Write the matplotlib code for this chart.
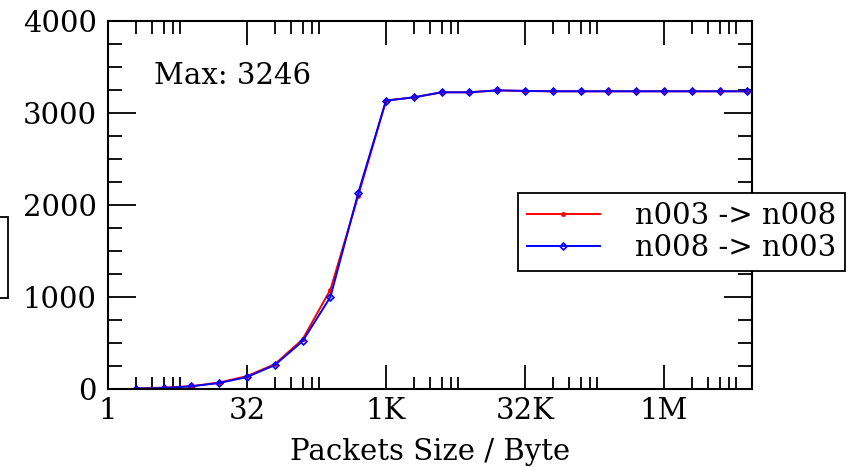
import matplotlib.pyplot as plt
import matplotlib.ticker as mticker
from matplotlib.patches import Rectangle
import numpy as np

# packet sizes (bytes) and measured bandwidth for both directions
sizes = [2, 4, 8, 16, 32, 64, 128, 256, 512, 1024, 2048, 4096, 8192,
         16384, 32768, 65536, 131072, 262144, 524288, 1048576, 2097152,
         4194304, 8388608]
bw_003_008 = [5, 15, 30, 70, 140, 270, 540, 1080, 2100, 3135, 3170, 3225,
              3225, 3246, 3240, 3236, 3236, 3236, 3236, 3236, 3236, 3236, 3236]
bw_008_003 = [5, 10, 30, 65, 130, 260, 520, 1000, 2130, 3135, 3170, 3225,
              3225, 3246, 3240, 3236, 3236, 3236, 3236, 3236, 3236, 3236, 3236]

major_ticks = [1, 32, 1024, 32768, 1048576]
major_labels = ['1', '32', '1K', '32K', '1M']

plt.rcParams['font.family'] = 'DejaVu Serif'
fs = 21

fig = plt.figure(figsize=(8.66, 4.67), dpi=100)
W, H = 866, 467
ax = fig.add_axes([108 / W, 1 - 389 / H, (752 - 108) / W, (389 - 21) / H])

ax.plot(sizes, bw_003_008, color='red', lw=1.4, marker='o', ms=2.5,
        label='n003 -> n008')
ax.plot(sizes, bw_008_003, color='blue', lw=1.4, marker='D', ms=3.5,
        mfc='none', mew=1.2, label='n008 -> n003')

ax.set_xscale('log', base=2)
ax.set_xlim(1, 9.4e6)
ax.set_ylim(0, 4000)

ax.xaxis.set_major_locator(mticker.FixedLocator(major_ticks))
ax.xaxis.set_major_formatter(mticker.FixedFormatter(major_labels))
minors = [m * k for m in major_ticks for k in (2, 3, 4, 5, 6)]
ax.xaxis.set_minor_locator(mticker.FixedLocator(minors))
ax.xaxis.set_minor_formatter(mticker.NullFormatter())

ax.yaxis.set_major_locator(mticker.MultipleLocator(1000))
ax.yaxis.set_minor_locator(mticker.MultipleLocator(250))

ax.tick_params(which='both', direction='in', top=True, right=True,
               width=1.3, labelsize=fs)
ax.tick_params(axis='x', which='major', length=17, pad=6)
ax.tick_params(axis='x', which='minor', length=9)
ax.tick_params(axis='y', which='major', length=20, pad=8)
ax.tick_params(axis='y', which='minor', length=10)
for s in ax.spines.values():
    s.set_linewidth(1.5)

ax.set_xlabel('Packets Size / Byte', fontsize=fs, labelpad=9)
ax.text(0.072, 0.83, 'Max: 3246', transform=ax.transAxes, fontsize=fs)

leg = fig.legend(loc='upper left', bbox_to_anchor=(518 / W, 1 - 193 / H),
                 fontsize=fs, frameon=True, fancybox=False, edgecolor='black',
                 framealpha=1, borderpad=0.3, handlelength=2.5,
                 handletextpad=1.2, labelspacing=0.15, borderaxespad=0)
leg.get_frame().set_linewidth(1.3)

# partial box cut off at the left edge of the figure
fig.patches.append(Rectangle((-0.01, 1 - 298 / H), 0.01 + 8 / W, 81 / H,
                             transform=fig.transFigure, fill=False,
                             edgecolor='black', lw=1.3))

fig.savefig('out.png', dpi=100)
